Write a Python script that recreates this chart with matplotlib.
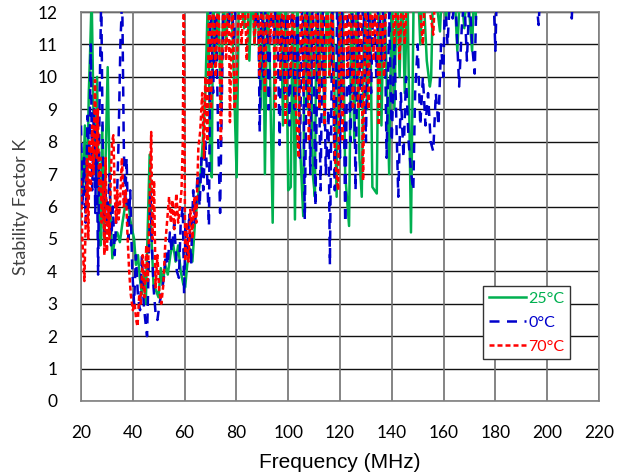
import matplotlib
matplotlib.use("Agg")
import matplotlib.pyplot as plt
from matplotlib.lines import Line2D

# ---------------- data (values >12 are clipped at top) ----------------
freq_25 = [20, 20.8, 21.5, 22.3, 23.0, 23.6, 24.1, 24.8, 25.5, 26.2, 26.8, 27.5, 28.2, 28.8, 29.5,
           30.3, 31.0, 31.5, 32.1, 33, 34, 35, 36, 37, 38.2, 39, 39.7, 40.5, 41.2, 42, 42.7, 43.5,
           44.3, 45, 45.8, 46.5, 47.2, 48, 49, 49.9, 50.8, 51.5, 52.5, 53.5, 54.5, 55.5, 56.5, 57.5,
           58.5, 59.5, 60.2, 61, 62, 63, 64, 65, 66, 67, 68, 69, 69.8, 70.5, 71, 72, 73, 74, 75, 76,
           77, 78, 79, 80.1, 81, 83, 84, 85, 86, 87, 88, 89.5, 90.3, 91, 92, 93, 94, 95, 96, 97, 98,
           99, 100, 101, 101.8, 102.6, 103.5, 104.5, 105.8, 106.5, 107.5, 108.5, 109.5, 110.3, 111,
           112, 113, 114, 115, 116, 117, 118.7, 119.5, 120.5, 121, 122, 123.5, 124.5, 125.5, 126.5,
           127.5, 128.4, 129.5, 130.5, 131.5, 132.5, 134.2, 135, 136, 137, 139, 140, 141, 142, 143,
           144, 145, 146, 147.4, 148.5, 150, 151, 152, 153.5, 154.7, 155.2, 156, 157, 158.6, 159.5,
           161, 162, 164, 165.3, 166.5, 168, 169, 171, 171.8, 172.5]
k_25 = [7.8, 6.5, 8.5, 6.0, 9.5, 11.0, 12.5, 9.0, 7.0, 10.0, 6.0, 4.8, 8.5, 5.0, 7.5,
        10.3, 7.0, 5.5, 4.4, 5.0, 5.2, 4.9, 5.5, 6.0, 6.2, 5.6, 5.3, 5.0, 4.2, 4.5, 3.8, 3.3,
        3.9, 3.0, 5.5, 7.6, 5.0, 3.6, 3.4, 3.2, 4.1, 3.6, 4.2, 3.9, 4.5, 4.9, 4.3, 4.8,
        4.0, 3.6, 3.5, 4.2, 4.7, 4.3, 5.5, 6.2, 6.8, 8.0, 9.5, 12.5, 8.0, 6.9, 12.5, 10.5, 12.5, 9.0, 12.5, 11.0,
        12.5, 12.5, 10.0, 6.9, 13, 11.5, 13, 10.5, 13, 11.0, 13, 9.0, 13, 7.0, 13, 10.0, 5.5, 13, 11.0, 13, 8.5,
        13, 6.5, 6.6, 13, 5.6, 13, 8.0, 5.7, 13, 9.0, 13, 7.0, 6.3, 13,
        9.5, 13, 8.5, 13, 10.0, 13, 6.3, 13, 9.0, 13, 7.0, 5.4, 13, 8.0, 13,
        7.5, 6.3, 13, 9.0, 13, 6.6, 6.4, 13, 8.5, 13, 7.0, 13, 9.0, 13, 10.0,
        13, 9.5, 13, 5.2, 13, 13, 11.0, 13, 10.5, 9.7, 10.0, 13, 12.5, 11.4, 13,
        11.8, 13, 13, 10.8, 13, 11.5, 13, 10.8, 13, 11.8]

freq_0 = [20, 20.6, 21.2, 21.8, 22.5, 23.2, 23.8, 24.3, 25, 25.5, 26.0, 26.6, 27.2, 27.8, 28.5, 29,
          29.6, 30.3, 31, 31.6, 32.3, 33, 33.8, 34.5, 35.2, 35.9, 36.5, 37, 37.6, 38.3, 39, 39.8,
          40.5, 41.2, 42, 42.8, 43.5, 44.2, 44.8, 45.5, 46.2, 46.8, 47.3, 48, 48.8, 49.5, 50.3, 51,
          52, 52.8, 53.5, 54.3, 55, 56, 57, 57.8, 58.5, 59.3, 59.8, 60.4, 61, 61.8, 62.5, 63.3, 64,
          65, 65.8, 66.5, 67.2, 68, 68.6, 69.4, 70, 71, 72, 73, 73.7, 74.3, 75, 76, 77, 78, 79, 80,
          81, 82, 83, 84, 85, 86, 87.5, 88.3, 89, 89.8, 90.5, 91.5, 92.5, 93.5, 94.5, 95.5, 96.7,
          97.5, 98.5, 99.5, 100.5, 101.5, 102.5, 103.5, 104.5, 105.5, 106.4, 107.5, 108.5, 109.5,
          110.5, 111.5, 112.5, 113.5, 114.5, 115.5, 116.1, 117, 118, 119, 120, 121, 122, 123, 124,
          125, 126, 127, 128, 129, 130, 131, 132, 133, 134, 135, 136, 137, 138, 139, 140, 141, 142.5,
          143.5, 144.5, 145.5, 146.5, 147.5, 148.3, 149, 150, 151, 152, 153, 154, 155, 156, 157, 158,
          159, 159.9, 160.5, 161.5, 162.5, 163.5, 164.5, 166, 167, 168, 169, 170, 171, 172, 172.7,
          175, 179.5, 180, 180.5, 185, 195, 196.7, 197.5, 209, 209.5, 210]
k_0 = [8.5, 6.0, 7.5, 5.5, 8.8, 7.5, 11.0, 6.5, 9.0, 5.8, 8.5, 3.9, 9.5, 12.5, 7.0, 5.0,
       6.5, 5.5, 7.0, 4.8, 6.0, 4.5, 6.0, 8.0, 11.0, 12.5, 8.0, 6.0, 7.5, 5.0, 6.5, 4.0,
       3.0, 4.5, 3.2, 2.8, 4.5, 3.0, 2.5, 2.0, 4.5, 6.5, 5.0, 3.5, 2.7, 2.5, 3.0, 3.3,
       3.8, 4.6, 4.2, 5.2, 4.6, 5.5, 4.0, 3.8, 5.5, 6.0, 3.3, 5.5, 4.5, 5.8, 4.2, 6.5, 5.5,
       7.0, 6.0, 7.5, 6.5, 8.0, 7.2, 5.4, 12.5, 9.5, 12.5, 8.0, 5.8, 9.0, 12.5, 13, 11.5, 13, 11.0, 13,
       12.3, 13, 13, 12.5, 13, 13, 11.5, 13, 8.3, 13, 10.0, 13, 9.0, 13, 11.0, 13, 7.9,
       13, 9.5, 13, 8.5, 13, 9.0, 13, 7.5, 13, 5.6, 13, 7.0, 13,
       6.0, 12.0, 6.5, 13, 7.0, 9.0, 4.2, 12.0, 6.5, 13, 7.5, 13, 5.5, 12.0, 8.0,
       13, 6.5, 12.0, 9.0, 13, 8.0, 13, 9.5, 13, 10.0, 13, 10.5, 13, 7.5, 12.0, 8.0, 11.0, 6.3,
       9.5, 7.5, 10.0, 8.0, 7.0, 6.5, 9.5, 11.0, 8.5, 10.0, 8.5, 9.5, 8.0, 7.7, 9.5, 8.5,
       11.0, 10.0, 12.5, 11.0, 12.5, 11.8, 12.5, 9.7, 11.5, 12.5, 10.5, 12.5, 11.0, 10.1, 12.5,
       13, 12.0, 10.8, 12.5, 13, 13, 11.6, 13, 13, 11.8, 13]

freq_70 = [20, 20.5, 21.3, 21.8, 22.3, 22.8, 23.3, 23.8, 24.3, 24.8, 25.4, 26, 26.5, 27, 27.5, 28,
           28.5, 29, 29.5, 30, 30.5, 31, 31.5, 32, 32.5, 33, 33.5, 34, 34.5, 35, 35.8, 36.5, 37.3,
           38, 38.6, 39.2, 40, 40.7, 41.3, 41.8, 42.5, 43.1, 43.8, 44.5, 45.2, 45.8, 46.3, 47.1,
           47.6, 48.2, 48.8, 49.5, 50.2, 51, 51.8, 52.5, 53.2, 54, 54.7, 55.3, 56, 56.8, 57.5, 58.2,
           58.8, 59.3, 59.7, 60.2, 60.8, 61.5, 62.2, 63, 63.8, 64.5, 65.3, 66, 66.8, 67.5, 68, 68.8,
           69.5, 70.2, 71, 72, 73, 74, 75, 76, 77, 77.5, 78.5, 79.3, 80, 81, 82, 83, 84, 85, 86, 87,
           88, 89, 90, 91, 92, 93, 94, 95, 96, 97, 98, 99, 100, 101, 102, 103, 104, 105, 106, 107,
           108, 109, 110, 111, 112, 113, 114, 115, 116, 117, 118, 119.3, 120, 121, 122, 123, 124,
           125, 126, 127, 128, 128.9, 130, 131, 132, 133, 134, 135, 136, 137, 138, 140, 141, 142,
           143, 144, 145, 146, 148, 150, 152, 153, 156, 157, 158, 160]
k_70 = [6.8, 5.0, 3.7, 5.5, 7.5, 5.0, 8.0, 6.5, 8.5, 7.0, 9.9, 7.5, 9.0, 6.5, 7.5, 5.5,
        6.8, 4.5, 7.5, 4.6, 6.0, 5.0, 7.0, 8.0, 8.2, 6.5, 5.5, 6.5, 5.6, 6.0, 7.5, 6.0, 6.5,
        5.0, 4.0, 3.3, 2.8, 3.0, 2.5, 2.3, 3.3, 3.0, 4.5, 3.2, 4.8, 3.7, 5.5, 8.3,
        5.0, 6.8, 3.5, 4.5, 3.4, 3.0, 3.6, 4.8, 5.5, 6.3, 5.5, 6.2, 5.3, 6.4, 5.5, 6.0,
        6.5, 8.0, 13, 4.3, 5.5, 4.3, 5.9, 5.0, 6.3, 5.5, 7.8, 8.3, 9.5, 7.5, 10.0, 8.0,
        13, 9.0, 13, 10.0, 13, 8.0, 13, 10.5, 13, 8.6, 13, 9.0, 9.6, 13, 11.0, 13, 10.5, 13, 13, 11.0,
        13, 10.0, 13, 9.5, 13, 11.0, 13, 9.0, 13, 10.0, 13, 8.5, 13, 10.0, 13, 9.0, 7.5, 13, 9.5, 13,
        8.0, 13, 10.0, 13, 9.0, 13, 8.5, 13, 10.0, 13, 7.5, 6.5, 13, 8.0, 13, 10.0, 13,
        9.0, 13, 9.0, 13, 6.8, 13, 9.0, 13, 10.5, 13, 8.5, 13, 10.0, 13, 13, 11.0, 13,
        10.5, 13, 11.0, 13, 13, 13, 11.0, 13, 11.3, 13, 12.0, 13]

series_labels = ["25°C", "0°C", "70°C"]
series_colors = ["#00B050", "#0000CC", "#FF0000"]
x_ticks = [20, 40, 60, 80, 100, 120, 140, 160, 180, 200, 220]
y_ticks = list(range(0, 13))

# ---------------- figure ----------------
fig = plt.figure(figsize=(6.29, 4.75), dpi=100)
ax = fig.add_axes([0.1288, 0.1558, 0.8235, 0.8189])

ax.plot(freq_25, k_25, color=series_colors[0], lw=1.8, ls="-", zorder=3)
ax.plot(freq_0, k_0, color=series_colors[1], lw=1.8, ls=(0, (4, 3)), zorder=4)
ax.plot(freq_70, k_70, color=series_colors[2], lw=1.8, ls=(0, (2, 1.2)), zorder=5)

ax.set_xlim(20, 220)
ax.set_ylim(0, 12)
ax.set_xticks(x_ticks)
ax.set_yticks(y_ticks)

for y in y_ticks:
    ax.axhline(y, color="#111111", lw=1.0, zorder=1)
for x in x_ticks:
    ax.axvline(x, color="#707070", lw=1.2, zorder=1)

for s in ax.spines.values():
    s.set_color("#808080")
    s.set_linewidth(1.2)

ax.tick_params(length=0, colors="#000000")
for lbl in ax.get_xticklabels() + ax.get_yticklabels():
    lbl.set_fontfamily(["Lato", "DejaVu Sans"])
    lbl.set_fontsize(12.5)
ax.tick_params(axis="y", pad=17)
ax.tick_params(axis="x", pad=17)

ax.set_xlabel("Frequency (MHz)", fontsize=15, family=["Liberation Sans Narrow", "Liberation Sans", "DejaVu Sans"], labelpad=9)
ax.set_ylabel("Stability Factor K", fontsize=13, family=["Lato", "DejaVu Sans"], color="#404040", labelpad=6)

handles = [Line2D([0], [0], color=series_colors[0], lw=1.8, ls="-"),
           Line2D([0], [0], color=series_colors[1], lw=1.8, ls=(0, (4, 3))),
           Line2D([0], [0], color=series_colors[2], lw=1.8, ls=(0, (2, 1.2)))]
leg = ax.legend(handles, series_labels, loc="upper left", bbox_to_anchor=(0.777, 0.295),
                frameon=True, fancybox=False, framealpha=1, edgecolor="#333333",
                prop={"family": ["Lato", "DejaVu Sans"], "size": 11.5}, handlelength=2.3,
                handletextpad=0.15, labelspacing=0.6, borderpad=0.35, borderaxespad=0)
leg.get_frame().set_linewidth(1.0)
for t, c in zip(leg.get_texts(), series_colors):
    t.set_color(c)
leg.set_zorder(10)

fig.savefig("out.png", dpi=100)
